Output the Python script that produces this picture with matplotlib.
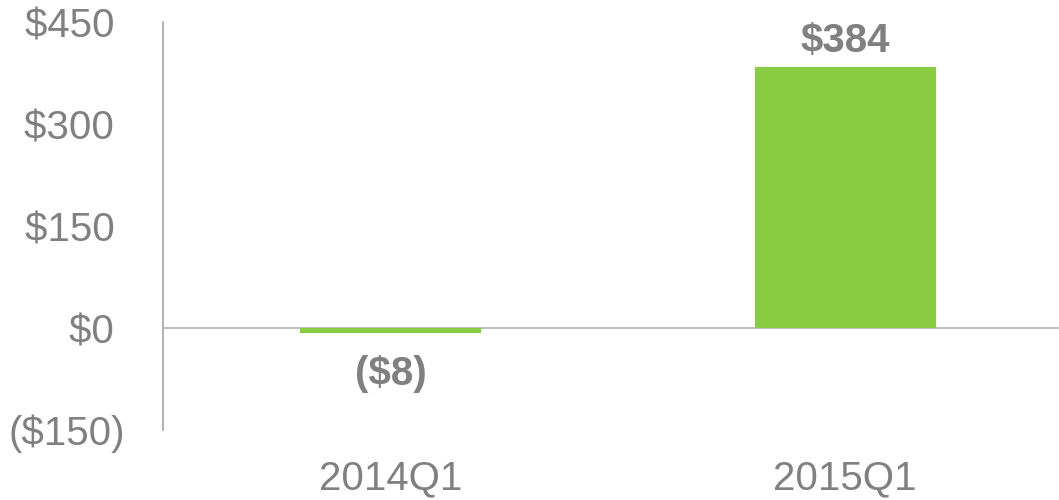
import matplotlib.pyplot as plt

categories = ['2014Q1', '2015Q1']
values = [-8, 384]
value_labels = ['($8)', '$384']
ytick_values = [-150, 0, 150, 300, 450]
ytick_labels = ['($150)', '$0 ', '$150 ', '$300 ', '$450 ']

plt.rcParams['font.family'] = ['Liberation Sans', 'DejaVu Sans']
text_gray = '#808080'
green = '#88cc42'

fig = plt.figure(figsize=(10.59, 5.0), dpi=100)
ax = fig.add_axes([0.1539, 0.14, 0.8461, 0.816])

x = list(range(len(categories)))
bars = ax.bar(x, values, width=0.398, color=green, zorder=2)
ax.axhline(0, color='#bfbfbf', linewidth=1.5, zorder=1)

# value labels above / below bars
for xi, v, lab in zip(x, values, value_labels):
    if v >= 0:
        ax.annotate(lab, (xi, v), xytext=(0, 11), textcoords='offset points',
                    ha='center', va='baseline', fontsize=29, fontweight='bold',
                    color=text_gray)
    else:
        ax.annotate(lab, (xi, v), xytext=(0, -37), textcoords='offset points',
                    ha='center', va='baseline', fontsize=29, fontweight='bold',
                    color=text_gray)

ax.set_xlim(-0.5, 1.47)
ax.set_ylim(-150, 450)
ax.set_xticks(x)
ax.set_xticklabels(categories, fontsize=29, color=text_gray)
ax.set_yticks(ytick_values)
ax.set_yticklabels(ytick_labels, fontsize=29, color=text_gray)
ax.tick_params(axis='both', length=0)
ax.tick_params(axis='y', pad=27)
ax.tick_params(axis='x', pad=21)

for side in ['top', 'right', 'bottom']:
    ax.spines[side].set_visible(False)
ax.spines['left'].set_color('#a6a6a6')
ax.spines['left'].set_linewidth(1.2)

fig.savefig('out.png', dpi=100)
